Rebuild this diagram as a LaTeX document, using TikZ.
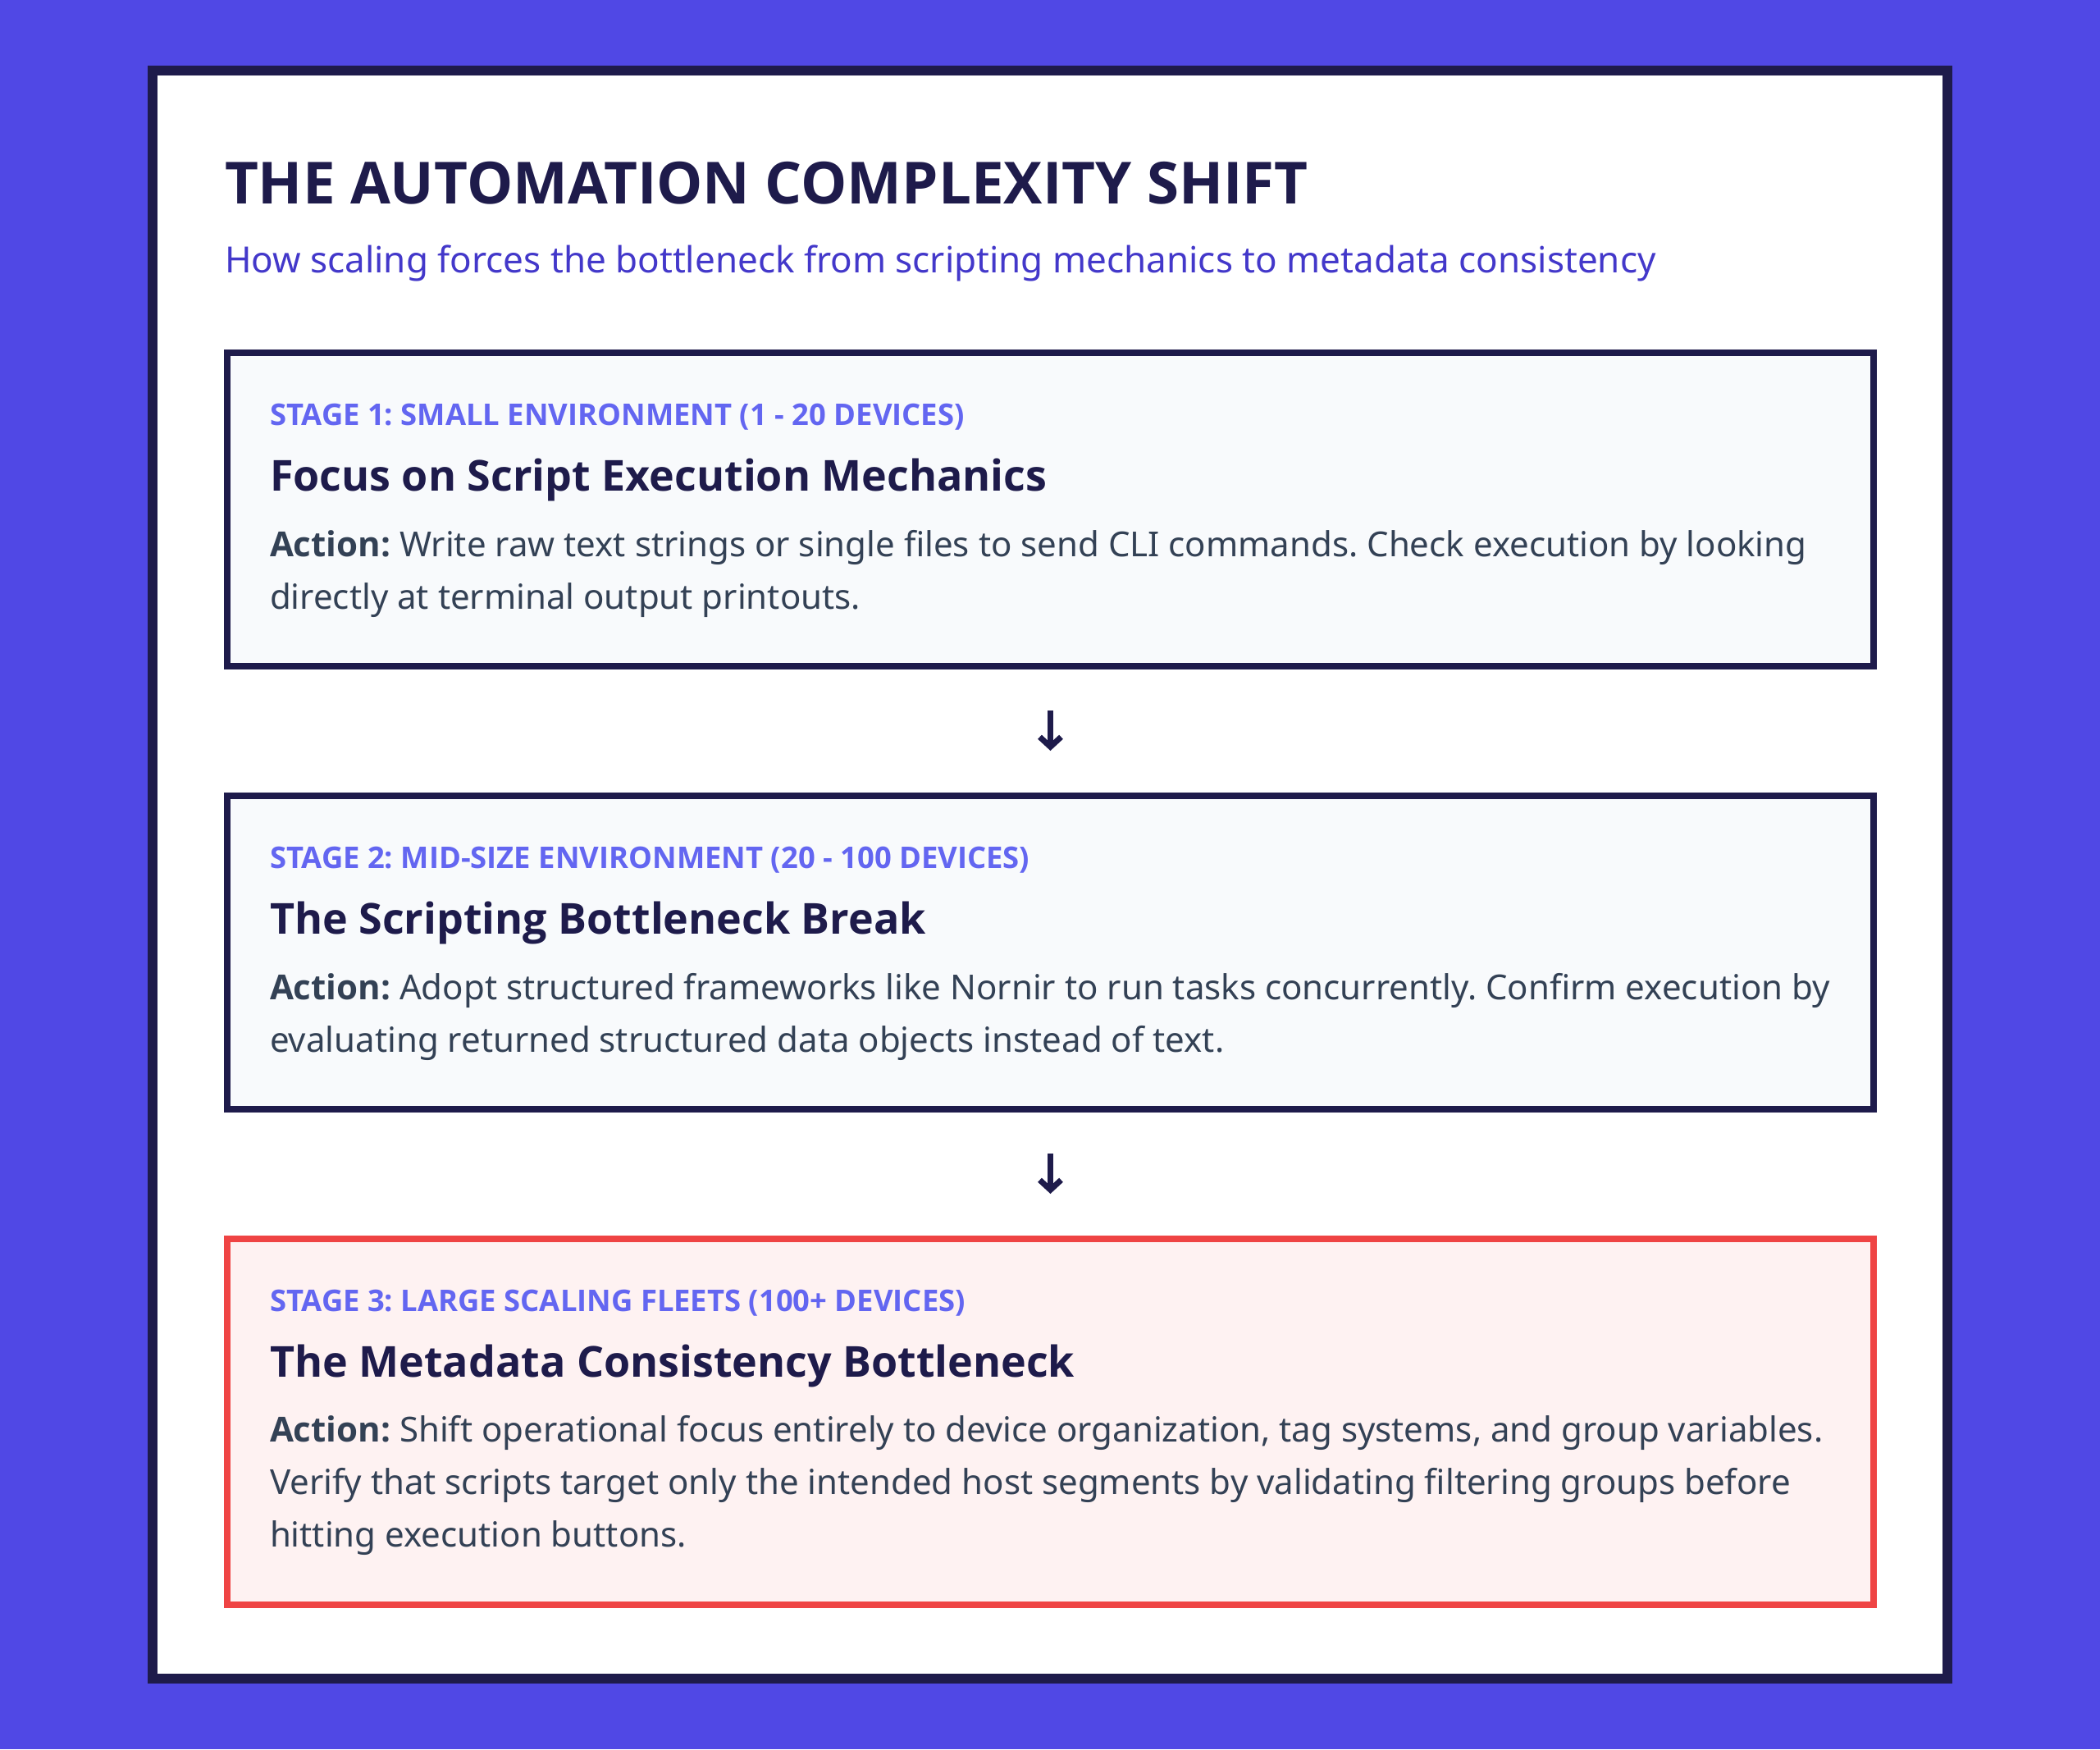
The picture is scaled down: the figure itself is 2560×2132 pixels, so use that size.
\documentclass[tikz,border=0pt]{standalone}
\usepackage{fontspec}
\setmainfont{Noto Sans}
\newfontfamily\osans{Open Sans}
\newcommand{\bfx}{\osans\bfseries}
\usetikzlibrary{arrows.meta}
\definecolor{bgblue}{HTML}{5048E5}
\definecolor{navy}{HTML}{1E1B4B}
\definecolor{boxfill}{HTML}{F8FAFC}
\definecolor{redfill}{HTML}{FEF2F2}
\definecolor{redline}{HTML}{EF4444}
\definecolor{stagecol}{HTML}{6366F1}
\definecolor{subcol}{HTML}{4338CA}
\definecolor{bodycol}{HTML}{334155}
\frenchspacing
\begin{document}
\begin{tikzpicture}[x=0.5pt,y=-0.5pt,
  stagebox/.style={draw=navy, line width=4pt, fill=boxfill, minimum width=1003.5pt,
    inner sep=0pt, outer sep=0pt, anchor=north west},
  txt/.style={anchor=base west, inner sep=0pt, outer sep=0pt},
  stagelbl/.style={txt, text=stagecol, font=\fontsize{18.2pt}{22pt}\selectfont\bfx},
  heading/.style={txt, text=navy, font=\fontsize{26pt}{31pt}\selectfont\bfx},
  bodytxt/.style={txt, text=bodycol, font=\fontsize{21pt}{26pt}\selectfont},
  flow/.style={draw=navy, line width=3.5pt, -{Straight Barb[length=6pt,width=13pt]}}
]
\useasboundingbox (0,0) rectangle (2560,2132);
\fill[bgblue] (0,0) rectangle (2560,2132);
\draw[navy, line width=6pt, fill=white] (186,86) rectangle (2374,2046);

\node[txt, text=navy, font=\fontsize{35.4pt}{42pt}\selectfont\bfx] (title) at (274,248) {THE AUTOMATION COMPLEXITY SHIFT};
\node[txt, text=subcol, font=\fontsize{22pt}{27pt}\selectfont] (subtitle) at (274,332) {How scaling forces the bottleneck from scripting mechanics to metadata consistency};

% Stage 1
\node[stagebox, minimum height=191pt] (b1) at (277,430) {};
\node[stagelbl] (s1) at (329,518) {STAGE 1: SMALL ENVIRONMENT (1 - 20 DEVICES)};
\node[heading] (h1) at (329,598) {Focus on Script Execution Mechanics};
\node[bodytxt] (t1a) at (329,678) {{\bfx Action:} Write raw text strings or single files to send CLI commands. Check execution by looking};
\node[bodytxt] (t1b) at (329,742) {directly at terminal output printouts.};

% Stage 2
\node[stagebox, minimum height=191pt] (b2) at (277,970) {};
\node[stagelbl] (s2) at (329,1058) {STAGE 2: MID-SIZE ENVIRONMENT (20 - 100 DEVICES)};
\node[heading] (h2) at (329,1138) {The Scripting Bottleneck Break};
\node[bodytxt] (t2a) at (329,1218) {{\bfx Action:} Adopt structured frameworks like Nornir to run tasks concurrently. Confirm execution by};
\node[bodytxt] (t2b) at (329,1282) {evaluating returned structured data objects instead of text.};

% Stage 3
\node[stagebox, draw=redline, fill=redfill, minimum height=223pt] (b3) at (277,1510) {};
\node[stagelbl] (s3) at (329,1598) {STAGE 3: LARGE SCALING FLEETS (100+ DEVICES)};
\node[heading] (h3) at (329,1678) {The Metadata Consistency Bottleneck};
\node[bodytxt] (t3a) at (329,1757) {{\bfx Action:} Shift operational focus entirely to device organization, tag systems, and group variables.};
\node[bodytxt] (t3b) at (329,1821) {Verify that scripts target only the intended host segments by validating filtering groups before};
\node[bodytxt] (t3c) at (329,1885) {hitting execution buttons.};

% arrows
\draw[flow] ([yshift=-27pt]b1.south) -- ([yshift=27.5pt]b2.north);
\draw[flow] ([yshift=-27pt]b2.south) -- ([yshift=27.5pt]b3.north);
\end{tikzpicture}
\end{document}
